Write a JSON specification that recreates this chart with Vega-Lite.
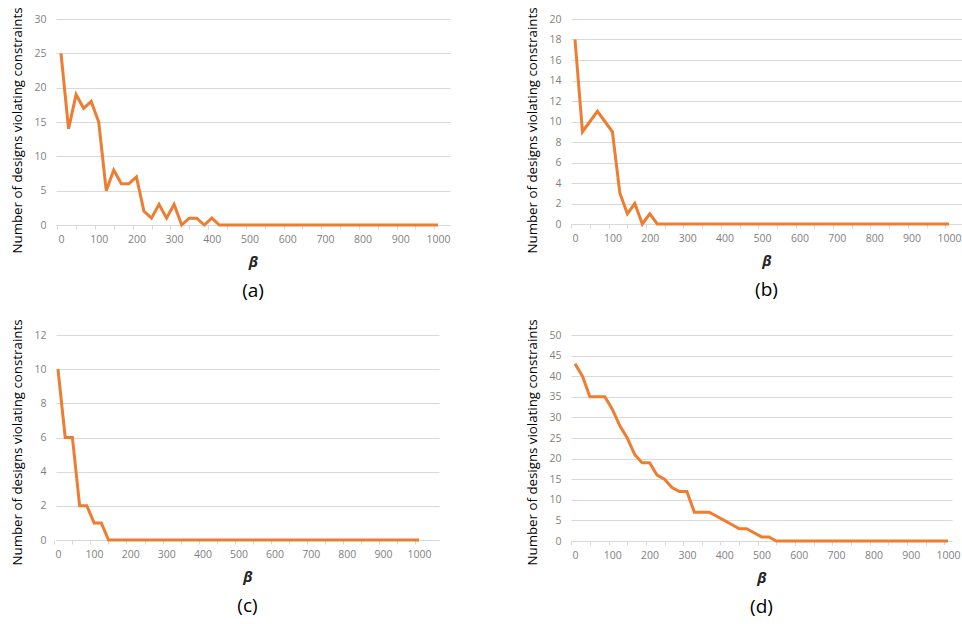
{
  "$schema": "https://vega.github.io/schema/vega-lite/v6.json",
  "padding": {"left": 10, "top": 6, "right": 0, "bottom": 0},
  "background": "white",
  "config": {
    "font": "Open Sans",
    "view": {"stroke": null},
    "axisX": {
      "grid": false,
      "domainColor": "#d9d9d9",
      "tickColor": "#d9d9d9",
      "tickSize": 4,
      "labelPadding": 5,
      "labelFontSize": 10.5,
      "labelColor": "#7f7f7f",
      "titleFontSize": 15,
      "titleFontStyle": "italic",
      "titleFontWeight": "bold",
      "titleColor": "#262626",
      "titlePadding": 10,
      "tickOffset": -3.7,
      "labelOffset": 3.7,
      "format": "d",
      "labelExpr": "datum.value % 100 === 0 ? datum.label : ''",
      "labelFlush": false,
      "labelOverlap": false
    },
    "axisY": {
      "grid": true,
      "gridColor": "#d9d9d9",
      "domain": false,
      "ticks": false,
      "tickSize": 0,
      "labelPadding": 10,
      "labelFontSize": 10.5,
      "labelColor": "#7f7f7f",
      "titleFontSize": 13.3,
      "titleFontWeight": "normal",
      "titleColor": "#000000",
      "titlePadding": 9
    },
    "title": {"orient": "bottom", "fontSize": 19, "fontWeight": "normal", "color": "#000000", "offset": 12, "frame": "group"}
  },
  "columns": 2,
  "bounds": "flush",
  "align": "all",
  "spacing": {"row": 110, "column": 121},
  "concat": [
    {
      "width": 394,
      "height": 206,
      "title": "(a)",
      "data": {"values": [
        {"beta": 0, "n": 25}, {"beta": 20, "n": 14}, {"beta": 40, "n": 19}, {"beta": 60, "n": 17}, {"beta": 80, "n": 18},
        {"beta": 100, "n": 15}, {"beta": 120, "n": 5}, {"beta": 140, "n": 8}, {"beta": 160, "n": 6}, {"beta": 180, "n": 6},
        {"beta": 200, "n": 7}, {"beta": 220, "n": 2}, {"beta": 240, "n": 1}, {"beta": 260, "n": 3}, {"beta": 280, "n": 1},
        {"beta": 300, "n": 3}, {"beta": 320, "n": 0}, {"beta": 340, "n": 1}, {"beta": 360, "n": 1}, {"beta": 380, "n": 0},
        {"beta": 400, "n": 1}, {"beta": 420, "n": 0}, {"beta": 440, "n": 0}, {"beta": 460, "n": 0}, {"beta": 480, "n": 0},
        {"beta": 500, "n": 0}, {"beta": 520, "n": 0}, {"beta": 540, "n": 0}, {"beta": 560, "n": 0}, {"beta": 580, "n": 0},
        {"beta": 600, "n": 0}, {"beta": 620, "n": 0}, {"beta": 640, "n": 0}, {"beta": 660, "n": 0}, {"beta": 680, "n": 0},
        {"beta": 700, "n": 0}, {"beta": 720, "n": 0}, {"beta": 740, "n": 0}, {"beta": 760, "n": 0}, {"beta": 780, "n": 0},
        {"beta": 800, "n": 0}, {"beta": 820, "n": 0}, {"beta": 840, "n": 0}, {"beta": 860, "n": 0}, {"beta": 880, "n": 0},
        {"beta": 900, "n": 0}, {"beta": 920, "n": 0}, {"beta": 940, "n": 0}, {"beta": 960, "n": 0}, {"beta": 980, "n": 0},
        {"beta": 1000, "n": 0}
      ]},
      "mark": {"type": "line", "color": "#ED7D31", "strokeWidth": 3},
      "encoding": {
        "x": {"field": "beta", "type": "quantitative", "title": "β", "scale": {"domain": [-13.3, 1031.8], "nice": false, "zero": false},
              "axis": {"values": [0, 50, 100, 150, 200, 250, 300, 350, 400, 450, 500, 550, 600, 650, 700, 750, 800, 850, 900, 950, 1000]}},
        "y": {"field": "n", "type": "quantitative", "title": "Number of designs violating constraints", "scale": {"domain": [0, 30], "nice": false},
              "axis": {"values": [0, 5, 10, 15, 20, 25, 30], "titleY": 111}}
      }
    },
    {
      "width": 391,
      "height": 205,
      "title": "(b)",
      "data": {"values": [
        {"beta": 0, "n": 18}, {"beta": 20, "n": 9}, {"beta": 40, "n": 10}, {"beta": 60, "n": 11}, {"beta": 80, "n": 10},
        {"beta": 100, "n": 9}, {"beta": 120, "n": 3}, {"beta": 140, "n": 1}, {"beta": 160, "n": 2}, {"beta": 180, "n": 0},
        {"beta": 200, "n": 1}, {"beta": 220, "n": 0}, {"beta": 240, "n": 0}, {"beta": 260, "n": 0}, {"beta": 280, "n": 0},
        {"beta": 300, "n": 0}, {"beta": 320, "n": 0}, {"beta": 340, "n": 0}, {"beta": 360, "n": 0}, {"beta": 380, "n": 0},
        {"beta": 400, "n": 0}, {"beta": 420, "n": 0}, {"beta": 440, "n": 0}, {"beta": 460, "n": 0}, {"beta": 480, "n": 0},
        {"beta": 500, "n": 0}, {"beta": 520, "n": 0}, {"beta": 540, "n": 0}, {"beta": 560, "n": 0}, {"beta": 580, "n": 0},
        {"beta": 600, "n": 0}, {"beta": 620, "n": 0}, {"beta": 640, "n": 0}, {"beta": 660, "n": 0}, {"beta": 680, "n": 0},
        {"beta": 700, "n": 0}, {"beta": 720, "n": 0}, {"beta": 740, "n": 0}, {"beta": 760, "n": 0}, {"beta": 780, "n": 0},
        {"beta": 800, "n": 0}, {"beta": 820, "n": 0}, {"beta": 840, "n": 0}, {"beta": 860, "n": 0}, {"beta": 880, "n": 0},
        {"beta": 900, "n": 0}, {"beta": 920, "n": 0}, {"beta": 940, "n": 0}, {"beta": 960, "n": 0}, {"beta": 980, "n": 0},
        {"beta": 1000, "n": 0}
      ]},
      "mark": {"type": "line", "color": "#ED7D31", "strokeWidth": 3},
      "encoding": {
        "x": {"field": "beta", "type": "quantitative", "title": "β", "scale": {"domain": [-10.7, 1034.8], "nice": false, "zero": false},
              "axis": {"values": [0, 50, 100, 150, 200, 250, 300, 350, 400, 450, 500, 550, 600, 650, 700, 750, 800, 850, 900, 950, 1000]}},
        "y": {"field": "n", "type": "quantitative", "title": "Number of designs violating constraints", "scale": {"domain": [0, 20], "nice": false},
              "axis": {"values": [0, 2, 4, 6, 8, 10, 12, 14, 16, 18, 20], "titleY": 111}}
      }
    },
    {
      "width": 383,
      "height": 205,
      "title": "(c)",
      "data": {"values": [
        {"beta": 0, "n": 10}, {"beta": 20, "n": 6}, {"beta": 40, "n": 6}, {"beta": 60, "n": 2}, {"beta": 80, "n": 2},
        {"beta": 100, "n": 1}, {"beta": 120, "n": 1}, {"beta": 140, "n": 0}, {"beta": 160, "n": 0}, {"beta": 180, "n": 0},
        {"beta": 200, "n": 0}, {"beta": 220, "n": 0}, {"beta": 240, "n": 0}, {"beta": 260, "n": 0}, {"beta": 280, "n": 0},
        {"beta": 300, "n": 0}, {"beta": 320, "n": 0}, {"beta": 340, "n": 0}, {"beta": 360, "n": 0}, {"beta": 380, "n": 0},
        {"beta": 400, "n": 0}, {"beta": 420, "n": 0}, {"beta": 440, "n": 0}, {"beta": 460, "n": 0}, {"beta": 480, "n": 0},
        {"beta": 500, "n": 0}, {"beta": 520, "n": 0}, {"beta": 540, "n": 0}, {"beta": 560, "n": 0}, {"beta": 580, "n": 0},
        {"beta": 600, "n": 0}, {"beta": 620, "n": 0}, {"beta": 640, "n": 0}, {"beta": 660, "n": 0}, {"beta": 680, "n": 0},
        {"beta": 700, "n": 0}, {"beta": 720, "n": 0}, {"beta": 740, "n": 0}, {"beta": 760, "n": 0}, {"beta": 780, "n": 0},
        {"beta": 800, "n": 0}, {"beta": 820, "n": 0}, {"beta": 840, "n": 0}, {"beta": 860, "n": 0}, {"beta": 880, "n": 0},
        {"beta": 900, "n": 0}, {"beta": 920, "n": 0}, {"beta": 940, "n": 0}, {"beta": 960, "n": 0}, {"beta": 980, "n": 0},
        {"beta": 1000, "n": 0}
      ]},
      "mark": {"type": "line", "color": "#ED7D31", "strokeWidth": 3},
      "encoding": {
        "x": {"field": "beta", "type": "quantitative", "title": "β", "scale": {"domain": [-5.5, 1055.4], "nice": false, "zero": false},
              "axis": {"values": [0, 50, 100, 150, 200, 250, 300, 350, 400, 450, 500, 550, 600, 650, 700, 750, 800, 850, 900, 950, 1000]}},
        "y": {"field": "n", "type": "quantitative", "title": "Number of designs violating constraints", "scale": {"domain": [0, 12], "nice": false},
              "axis": {"values": [0, 2, 4, 6, 8, 10, 12], "titleY": 107}}
      }
    },
    {
      "width": 381,
      "height": 206,
      "title": "(d)",
      "data": {"values": [
        {"beta": 0, "n": 43}, {"beta": 20, "n": 40}, {"beta": 40, "n": 35}, {"beta": 60, "n": 35}, {"beta": 80, "n": 35},
        {"beta": 100, "n": 32}, {"beta": 120, "n": 28}, {"beta": 140, "n": 25}, {"beta": 160, "n": 21}, {"beta": 180, "n": 19},
        {"beta": 200, "n": 19}, {"beta": 220, "n": 16}, {"beta": 240, "n": 15}, {"beta": 260, "n": 13}, {"beta": 280, "n": 12},
        {"beta": 300, "n": 12}, {"beta": 320, "n": 7}, {"beta": 340, "n": 7}, {"beta": 360, "n": 7}, {"beta": 380, "n": 6},
        {"beta": 400, "n": 5}, {"beta": 420, "n": 4}, {"beta": 440, "n": 3}, {"beta": 460, "n": 3}, {"beta": 480, "n": 2},
        {"beta": 500, "n": 1}, {"beta": 520, "n": 1}, {"beta": 540, "n": 0}, {"beta": 560, "n": 0}, {"beta": 580, "n": 0},
        {"beta": 600, "n": 0}, {"beta": 620, "n": 0}, {"beta": 640, "n": 0}, {"beta": 660, "n": 0}, {"beta": 680, "n": 0},
        {"beta": 700, "n": 0}, {"beta": 720, "n": 0}, {"beta": 740, "n": 0}, {"beta": 760, "n": 0}, {"beta": 780, "n": 0},
        {"beta": 800, "n": 0}, {"beta": 820, "n": 0}, {"beta": 840, "n": 0}, {"beta": 860, "n": 0}, {"beta": 880, "n": 0},
        {"beta": 900, "n": 0}, {"beta": 920, "n": 0}, {"beta": 940, "n": 0}, {"beta": 960, "n": 0}, {"beta": 980, "n": 0},
        {"beta": 1000, "n": 0}
      ]},
      "mark": {"type": "line", "color": "#ED7D31", "strokeWidth": 3},
      "encoding": {
        "x": {"field": "beta", "type": "quantitative", "title": "β", "scale": {"domain": [-10.7, 1010.8], "nice": false, "zero": false},
              "axis": {"values": [0, 50, 100, 150, 200, 250, 300, 350, 400, 450, 500, 550, 600, 650, 700, 750, 800, 850, 900, 950, 1000]}},
        "y": {"field": "n", "type": "quantitative", "title": "Number of designs violating constraints", "scale": {"domain": [0, 50], "nice": false},
              "axis": {"values": [0, 5, 10, 15, 20, 25, 30, 35, 40, 45, 50], "titleY": 107}}
      }
    }
  ]
}
